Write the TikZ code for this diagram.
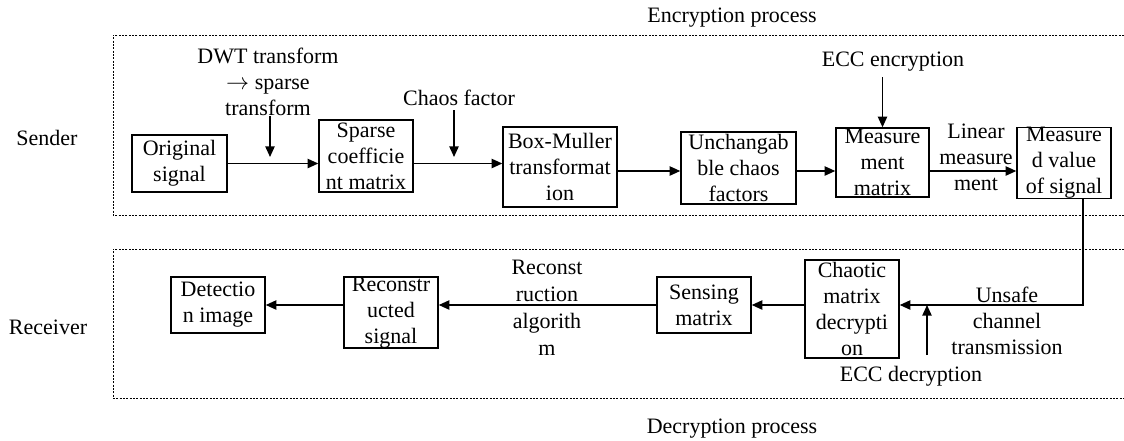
\documentclass[tikz,border=0pt]{standalone}
\usepackage{fontspec}
\setmainfont{Liberation Serif}
\usetikzlibrary{arrows.meta}
\tikzset{block/.style = {draw, fill=white, line width=1.1pt, rectangle, align=center, inner sep=0pt},
         lbl/.style = {align=center, inner sep=0pt},
         arr/.style = {-{Triangle[length=8pt,width=7pt]}, line width=1.1pt},
         zone/.style = {line width=0.7pt, dash pattern=on 1.5pt off 1pt}}

\begin{document}
\begin{tikzpicture}[x=0.75pt,y=-0.75pt,font=\fontsize{16.5pt}{19.5pt}\selectfont]
    \useasboundingbox (0,0) rectangle (1124,440);
    % the two dashed zones
    \draw[zone](1124,35) -| (113,215) -- (1124,215);
    \draw[zone](1124,249) -| (113,398) -- (1124,398);
    \node[lbl](enc)at(732,18){Encryption process};
    \node[lbl](dec)at(732,429){Decryption process};
    \node[lbl](snd)at(47,138){Sender};
    \node[lbl](rcv)at(48,327){Receiver};
    % sender row
    \node[block, minimum width=71.25pt, minimum height=42.75pt](orig)at(179.5,163.5){Original\\signal};
    \node[block, minimum width=70.5pt, minimum height=54pt](sparse)at(366,156){Sparse\\coefficie\\nt matrix};
    \node[block, minimum width=85.5pt, minimum height=60pt](boxm)at(560,167){Box-Muller\\transformat\\ion};
    \node[block, minimum width=86.25pt, minimum height=54pt](unch)at(738.5,168){Unchangab\\ble chaos\\factors};
    \node[block, minimum width=69.75pt, minimum height=51.75pt](meas)at(882.5,162.5){Measure\\ment\\matrix};
    \node[block, minimum width=70.5pt, minimum height=51pt](mval)at(1064,163){Measure\\d value\\of signal};
    \coordinate(r1)at(0,171);
    \draw[arr](orig.east)--(orig.east -| sparse.west);
    \draw[arr](sparse.east |- orig.east)--(orig.east -| boxm.west);
    \draw[arr](boxm.east |- r1)--(unch.west |- r1);
    \draw[arr](unch.east |- r1)--(meas.west |- r1);
    \draw[arr](meas.east |- r1)--(mval.west |- r1);
    \node[lbl](lin)at(976,157){Linear\\measure\\ment};
    % side inputs
    \node[lbl](dwt)at(268,82){DWT transform\\$\rightarrow$ sparse\\transform};
    \coordinate(j1)at(270,157);
    \draw[arr](j1 |- dwt.south)--(j1);
    \node[lbl](chaos)at(459,98){Chaos factor};
    \coordinate(j2)at(454,157);
    \draw[arr,shorten <=3pt](j2 |- chaos.south)--(j2);
    \node[lbl](ecce)at(893,62){ECC encryption};
    \draw[arr,shorten <=4pt](ecce.south -| meas.north)--(meas.north);
    % receiver row
    \node[block, minimum width=70.5pt, minimum height=73.5pt](chaotic)at(852,309){Chaotic\\matrix\\decrypti\\on};
    \node[block, minimum width=70.5pt, minimum height=42pt](sensing)at(704,305){Sensing\\matrix};
    \node[block, minimum width=70.5pt, minimum height=53.25pt](recon)at(391,312.5){Reconstr\\ucted\\signal};
    \node[block, minimum width=70.5pt, minimum height=42pt](detect)at(218,305){Detectio\\n image};
    \coordinate(c1)at(1083,305);
    \draw[arr](mval.south -| c1)--(c1)--(c1 -| chaotic.east);
    \node[lbl](unsafe)at(1007,321){Unsafe\\channel\\transmission};
    \node[lbl](eccd)at(911,376){ECC decryption};
    \coordinate(c2)at(927,305);
    \coordinate(c3)at(927,355);
    \draw[arr](c3)--(c2);
    \draw[arr](chaotic.west |- c1)--(sensing.east);
    \draw[arr](sensing.west)--(sensing.west -| recon.east);
    \draw[arr](recon.west |- sensing.west)--(detect.east);
    \node[lbl, font=\fontsize{16.5pt}{20.25pt}\selectfont](ralg)at(547,308){Reconst\\ruction\\algorith\\m};
\end{tikzpicture}
\end{document}
